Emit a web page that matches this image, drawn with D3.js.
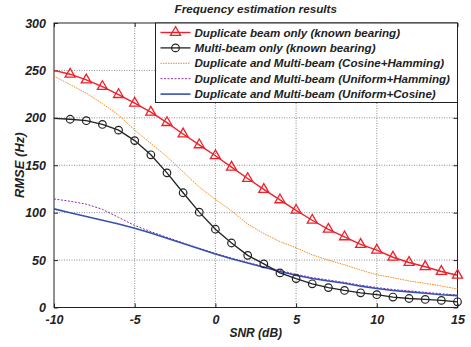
<!DOCTYPE html>
<html>
<head>
<meta charset="utf-8">
<script src="https://cdn.jsdelivr.net/npm/d3@7"></script>
<style>
  body { margin: 0; background: #fff; }
  text { font-family: "Liberation Sans", Arial, sans-serif; font-weight: bold; font-style: italic; fill: #222; }
</style>
</head>
<body>
<svg id="chart" width="471" height="347"></svg>
<script>
  // ---- data ----
  const snr = [-10, -9, -8, -7, -6, -5, -4, -3, -2, -1, 0, 1, 2, 3, 4, 5, 6, 7, 8, 9, 10, 11, 12, 13, 14, 15];
  const dupOnly   = [250, 246, 240, 233, 224.5, 215.5, 206, 195, 183, 171.5, 160, 148, 136, 124.5, 113.5, 102.5, 92, 82.5, 74.5, 66.5, 60.5, 53, 47.5, 43, 38, 34];
  const multiOnly = [199.5, 198.5, 197, 193, 187, 176, 161, 142, 121, 100.5, 82.5, 68, 55, 46, 36.5, 30.5, 25, 21, 18, 15.5, 13.5, 11, 9.5, 8.5, 7.5, 6];
  const cosHam    = [244, 235, 226, 215, 203, 187, 173, 159, 143, 127, 114, 102, 88, 78, 69.5, 63, 55.5, 50, 45, 39.5, 34.5, 31.5, 28, 25.5, 22.7, 19.5];
  const uniHam    = [114.5, 112, 109, 103.5, 95, 86.5, 80, 74, 68, 62.5, 57, 52, 47.5, 43, 39, 35, 31.5, 29, 26.5, 23.5, 21, 19, 17.5, 16, 14.5, 13];
  const uniCos    = [104, 100, 96, 92, 88, 83.5, 78.5, 73, 67.5, 62, 56.5, 51.5, 47, 42.5, 38, 34, 30.5, 28, 25.5, 22.5, 20, 18, 16.5, 15, 13.5, 12.5];
  const xTicks = [-10, -5, 0, 5, 10, 15];
  const yTicks = [0, 50, 100, 150, 200, 250, 300];
  const names = [
    "Duplicate beam only (known bearing)",
    "Multi-beam only (known bearing)",
    "Duplicate and Multi-beam (Cosine+Hamming)",
    "Duplicate and Multi-beam (Uniform+Hamming)",
    "Duplicate and Multi-beam (Uniform+Cosine)"
  ];

  const svg = d3.select("#chart");
  const margin = { top: 23, right: 13.5, bottom: 39.5, left: 54 };
  const W = 471 - margin.left - margin.right;
  const H = 347 - margin.top - margin.bottom;
  const g = svg.append("g").attr("transform", `translate(${margin.left},${margin.top})`);

  const x = d3.scaleLinear().domain([-10, 15]).range([0, W]);
  const y = d3.scaleLinear().domain([0, 300]).range([H, 0]);

  // grid
  g.append("g").selectAll("line").data(xTicks.slice(1, -1)).join("line")
    .attr("x1", d => x(d)).attr("x2", d => x(d)).attr("y1", 0).attr("y2", H)
    .attr("stroke", "#808080").attr("stroke-width", 0.9).attr("stroke-dasharray", "1,1.5");
  g.append("g").selectAll("line").data(yTicks.slice(1, -1)).join("line")
    .attr("y1", d => y(d)).attr("y2", d => y(d)).attr("x1", 0).attr("x2", W)
    .attr("stroke", "#808080").attr("stroke-width", 0.9).attr("stroke-dasharray", "1,1.5");

  // axes
  const fmt = d => String(d);
  const xAxis = g.append("g").attr("transform", `translate(0,${H})`)
    .call(d3.axisBottom(x).tickValues(xTicks).tickFormat(fmt).tickSizeInner(-4).tickSizeOuter(0).tickPadding(10));
  const yAxis = g.append("g")
    .call(d3.axisLeft(y).tickValues(yTicks).tickFormat(fmt).tickSizeInner(-4).tickSizeOuter(0).tickPadding(8));
  g.append("g").call(d3.axisTop(x).tickValues(xTicks).tickSizeInner(-4).tickSizeOuter(0).tickFormat(""));
  g.append("g").attr("transform", `translate(${W},0)`)
    .call(d3.axisRight(y).tickValues(yTicks).tickSizeInner(-4).tickSizeOuter(0).tickFormat(""));
  g.selectAll(".domain").remove();
  g.selectAll(".tick line").attr("stroke", "#222");
  [xAxis, yAxis].forEach(a => a.selectAll("text").style("font-size", "12.5px").attr("fill", "#222"));
  xAxis.selectAll("text").attr("dy", "0.5em");
  g.append("rect").attr("width", W).attr("height", H).attr("fill", "none").attr("stroke", "#222").attr("stroke-width", 1);

  // lines
  const line = vals => d3.line().x((d, i) => x(snr[i])).y(d => y(d))(vals);
  const series = [
    { v: uniHam, c: "#8a2aa8", w: 1, dash: "2,1.5" },
    { v: cosHam, c: "#f08a1c", w: 1, dash: "1.5,1" },
    { v: uniCos, c: "#3650b0", w: 1.6, dash: null },
    { v: multiOnly, c: "#222", w: 1.3, dash: null },
    { v: dupOnly, c: "#f0202a", w: 1.4, dash: null }
  ];
  series.forEach(s => {
    g.append("path").attr("d", line(s.v)).attr("fill", "none")
      .attr("stroke", s.c).attr("stroke-width", s.w).attr("stroke-dasharray", s.dash);
  });

  const tri = d3.symbol().type(d3.symbolTriangle).size(44);
  g.append("g").selectAll("path").data(dupOnly.slice(1)).join("path")
    .attr("d", tri)
    .attr("transform", (d, i) => `translate(${x(snr[i + 1])},${y(d)})`)
    .attr("fill", "none").attr("stroke", "#f0202a").attr("stroke-width", 1.3);
  g.append("g").selectAll("circle").data(multiOnly.slice(1)).join("circle")
    .attr("cx", (d, i) => x(snr[i + 1])).attr("cy", d => y(d)).attr("r", 3.8)
    .attr("fill", "none").attr("stroke", "#222").attr("stroke-width", 1.2);

  // legend
  const lg = g.append("g").attr("transform", `translate(${x(-10) + 101.5},0)`);
  const lgW = W - 101.5;
  lg.append("rect").attr("width", lgW).attr("height", 79.5).attr("fill", "#fff").attr("stroke", "#222").attr("stroke-width", 1);
  const legendSeries = [
    { c: "#f0202a", w: 1.4, dash: null, m: "tri" },
    { c: "#222", w: 1.3, dash: null, m: "circ" },
    { c: "#f08a1c", w: 1, dash: "1.5,1" },
    { c: "#8a2aa8", w: 1, dash: "2,1.5" },
    { c: "#3650b0", w: 1.6, dash: null }
  ];
  legendSeries.forEach((s, i) => {
    const yy = 9.5 + i * 15.4;
    lg.append("line").attr("x1", 5).attr("x2", 35).attr("y1", yy).attr("y2", yy)
      .attr("stroke", s.c).attr("stroke-width", s.w).attr("stroke-dasharray", s.dash);
    if (s.m === "tri") lg.append("path").attr("d", tri).attr("transform", `translate(20,${yy})`)
      .attr("fill", "none").attr("stroke", s.c).attr("stroke-width", 1.3);
    if (s.m === "circ") lg.append("circle").attr("cx", 20).attr("cy", yy).attr("r", 3.8)
      .attr("fill", "none").attr("stroke", s.c).attr("stroke-width", 1.2);
    lg.append("text").attr("x", 39).attr("y", yy).attr("dy", "0.36em")
      .style("font-size", "11.6px").text(names[i]);
  });

  // titles
  svg.append("text").attr("x", margin.left + W / 2).attr("y", 13).attr("text-anchor", "middle")
    .style("font-size", "11.7px").text("Frequency estimation results");
  svg.append("text").attr("x", margin.left + W / 2).attr("y", 337).attr("text-anchor", "middle")
    .style("font-size", "12px").text("SNR (dB)");
  svg.append("text").attr("transform", `translate(24,${margin.top + H / 2}) rotate(-90)`)
    .attr("text-anchor", "middle").style("font-size", "13px").text("RMSE (Hz)");
</script>
</body>
</html>
